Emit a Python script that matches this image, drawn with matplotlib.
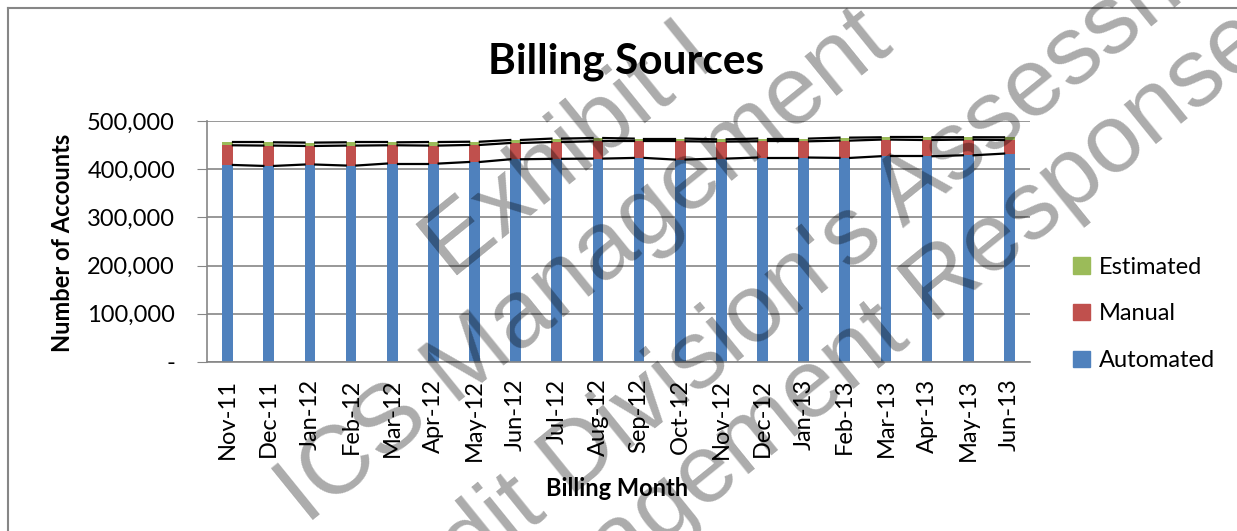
import matplotlib
matplotlib.use("Agg")
import matplotlib.pyplot as plt
from matplotlib.lines import Line2D
from matplotlib.patches import Patch
import numpy as np

months = ["Nov-11", "Dec-11", "Jan-12", "Feb-12", "Mar-12", "Apr-12", "May-12",
          "Jun-12", "Jul-12", "Aug-12", "Sep-12", "Oct-12", "Nov-12", "Dec-12",
          "Jan-13", "Feb-13", "Mar-13", "Apr-13", "May-13", "Jun-13"]
automated = [408800, 406800, 409700, 407600, 411700, 411700, 415000, 420600, 421500, 422000,
             423400, 420000, 422000, 424200, 424200, 423400, 426900, 426900, 428900, 432400]
manual = [40800, 42200, 38500, 41400, 37900, 37300, 35300, 33800, 34900, 35900,
          34500, 37900, 35300, 33700, 33700, 35900, 34500, 33700, 32500, 28200]
estimated = [6200, 6800, 7000, 6800, 6200, 7400, 6700, 6200, 7100, 6800,
             5600, 5600, 4700, 5600, 5600, 6200, 4800, 5600, 4900, 5600]

# watermark lines: text, centre (px from left, px from top)
watermark = [
    ("Exhibit I", (570, 152)),
    ("ICS Management", (585, 268)),
    ("Audit Division's Assessment", (830, 255)),
    ("Management Responses", (875, 340)),
]

plt.rcParams["font.family"] = ["Lato", "DejaVu Sans"]

W, H = 1237, 531
fig = plt.figure(figsize=(W / 100, H / 100), dpi=100)
ax = fig.add_axes([207 / W, 1 - 362 / H, (1030 - 207) / W, (362 - 121) / H])

blue, red, green = "#4F81BD", "#C0504D", "#9BBB59"
x = np.arange(len(months))
bw = 0.26
auto = np.array(automated)
man = np.array(manual)
est = np.array(estimated)

ax.bar(x, auto, bw, color=blue, label="Automated", zorder=2)
ax.bar(x, man, bw, bottom=auto, color=red, label="Manual", zorder=2)
ax.bar(x, est, bw, bottom=auto + man, color=green, label="Estimated", zorder=2)

# series lines between bar tops
for tops in (auto, auto + man, auto + man + est):
    for i in range(len(x) - 1):
        ax.plot([x[i] + bw / 2, x[i + 1] - bw / 2], [tops[i], tops[i + 1]],
                color="black", lw=1.6, zorder=3)

ax.set_xlim(-0.5, len(months) - 0.5)
ax.set_ylim(0, 500000)
ax.set_yticks(np.arange(0, 500001, 100000))
ax.set_yticklabels(["-"] + [f"{v:,}" for v in range(100000, 500001, 100000)], fontsize=17)
ax.set_xticks(x)
ax.set_xticklabels(months, rotation=90, fontsize=17)
ax.tick_params(axis="x", length=0, pad=12)
ax.tick_params(axis="y", length=7, color="#868686", pad=16)
ax.grid(axis="y", color="#868686", lw=1.2, zorder=0)
for s in ("top", "right"):
    ax.spines[s].set_visible(False)
for s in ("left", "bottom"):
    ax.spines[s].set_color("#868686")
    ax.spines[s].set_linewidth(1.2)

fig.text(626 / W, 1 - 62 / H, "Billing Sources", fontsize=30.5, fontweight="bold",
         ha="center", va="center")
fig.text(62 / W, 1 - 243 / H, "Number of Accounts", fontsize=17, fontweight="bold",
         rotation=90, ha="center", va="center")
fig.text(617 / W, 1 - 488 / H, "Billing Month", fontsize=17, fontweight="bold",
         ha="center", va="center")

handles = [Patch(color=green), Patch(color=red), Patch(color=blue)]
fig.legend(handles, ["Estimated", "Manual", "Automated"], loc="center left",
           bbox_to_anchor=(1052 / W, 1 - 314 / H), frameon=False, fontsize=17,
           handlelength=0.7, handleheight=0.7, handletextpad=0.4, labelspacing=1.1)

# chart border
fig.add_artist(Line2D([8 / W, 8 / W], [0, 1 - 8 / H], color="#868686", lw=1.5))
fig.add_artist(Line2D([8 / W, 1], [1 - 8 / H, 1 - 8 / H], color="#868686", lw=1.5))

for txt, (px, py) in watermark:
    fig.text(px / W, 1 - py / H, txt, fontsize=70, family=["Liberation Sans"],
             color="black", alpha=0.33, rotation=39, rotation_mode="anchor",
             ha="center", va="center", zorder=10)

fig.savefig("out.png", dpi=100)
